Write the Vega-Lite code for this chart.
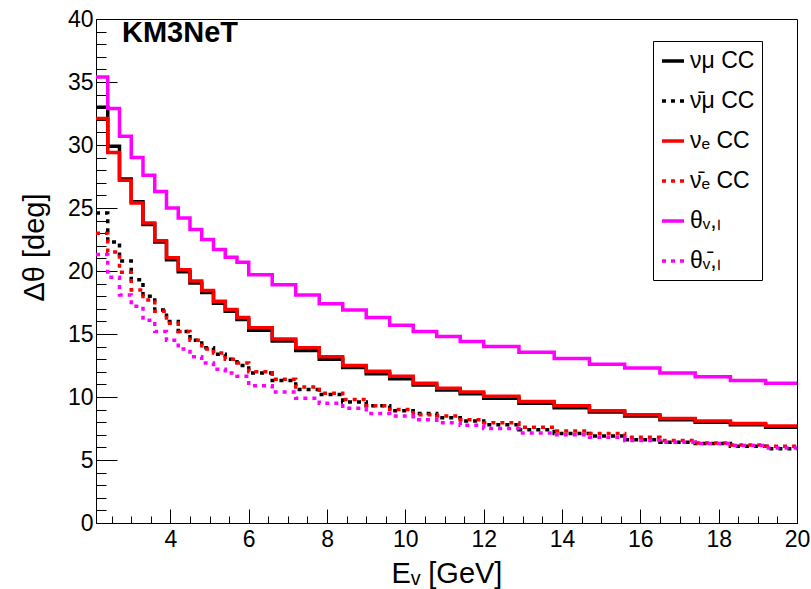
{
  "$schema": "https://vega.github.io/schema/vega-lite/v6.json",
  "width": 701,
  "height": 504,
  "autosize": {"type": "none"},
  "padding": {"left": 96, "top": 19, "right": 14, "bottom": 66},
  "background": "white",
  "title": {"text": "KM3NeT", "anchor": "start", "frame": "group", "font": "Liberation Sans", "fontSize": 29, "fontWeight": "bold", "color": "black", "dx": 26, "dy": 40, "offset": 0, "baseline": "top"},
  "config": {
    "view": {"stroke": "black", "strokeWidth": 1},
    "axis": {"labelFont": "Liberation Sans", "labelFontSize": 23, "labelColor": "black", "titleFont": "Liberation Sans", "titleFontSize": 29, "titleFontWeight": "normal", "titleColor": "black", "domainColor": "black", "tickColor": "black", "tickWidth": 1, "grid": false, "labelOverlap": false, "labelBound": false, "labelFlush": false}
  },
  "data": {"values": [
    {"e": 2.1, "numu": 33.0, "numubar": 24.6, "nue": 32.1, "nuebar": 23.0, "thnu": 35.4, "thnubar": 21.3},
    {"e": 2.4, "numu": 29.9, "numubar": 22.3, "nue": 29.4, "nuebar": 21.5, "thnu": 32.9, "thnubar": 19.5},
    {"e": 2.7, "numu": 27.3, "numubar": 20.8, "nue": 27.2, "nuebar": 19.9, "thnu": 30.7, "thnubar": 18.1},
    {"e": 3.0, "numu": 25.5, "numubar": 19.3, "nue": 25.4, "nuebar": 18.5, "thnu": 29.0, "thnubar": 17.2},
    {"e": 3.3, "numu": 23.7, "numubar": 18.0, "nue": 23.8, "nuebar": 17.7, "thnu": 27.6, "thnubar": 16.1},
    {"e": 3.6, "numu": 22.3, "numubar": 16.9, "nue": 22.4, "nuebar": 16.8, "thnu": 26.3, "thnubar": 15.2},
    {"e": 3.9, "numu": 20.9, "numubar": 16.0, "nue": 21.05, "nuebar": 15.85, "thnu": 25.0, "thnubar": 14.5},
    {"e": 4.2, "numu": 19.95, "numubar": 15.2, "nue": 20.1, "nuebar": 15.2, "thnu": 24.2, "thnubar": 13.8},
    {"e": 4.5, "numu": 19.05, "numubar": 14.5, "nue": 19.2, "nuebar": 14.5, "thnu": 23.3, "thnubar": 13.2},
    {"e": 4.8, "numu": 18.3, "numubar": 13.9, "nue": 18.45, "nuebar": 13.8, "thnu": 22.5, "thnubar": 12.7},
    {"e": 5.1, "numu": 17.45, "numubar": 13.4, "nue": 17.6, "nuebar": 13.5, "thnu": 21.7, "thnubar": 12.2},
    {"e": 5.4, "numu": 16.8, "numubar": 13.0, "nue": 16.95, "nuebar": 13.0, "thnu": 21.1, "thnubar": 11.9},
    {"e": 5.7, "numu": 16.15, "numubar": 12.5, "nue": 16.3, "nuebar": 12.7, "thnu": 20.7, "thnubar": 11.65},
    {"e": 6.0, "numu": 15.3, "numubar": 11.9, "nue": 15.5, "nuebar": 12.0, "thnu": 19.7, "thnubar": 10.9},
    {"e": 6.6, "numu": 14.45, "numubar": 11.3, "nue": 14.6, "nuebar": 11.4, "thnu": 18.9, "thnubar": 10.4},
    {"e": 7.2, "numu": 13.7, "numubar": 10.6, "nue": 13.9, "nuebar": 10.8, "thnu": 18.1, "thnubar": 9.9},
    {"e": 7.8, "numu": 13.0, "numubar": 10.2, "nue": 13.2, "nuebar": 10.3, "thnu": 17.4, "thnubar": 9.5},
    {"e": 8.4, "numu": 12.35, "numubar": 9.6, "nue": 12.5, "nuebar": 9.8, "thnu": 16.9, "thnubar": 9.1},
    {"e": 9.0, "numu": 11.85, "numubar": 9.3, "nue": 12.05, "nuebar": 9.3, "thnu": 16.3, "thnubar": 8.7},
    {"e": 9.6, "numu": 11.45, "numubar": 8.9, "nue": 11.65, "nuebar": 9.0, "thnu": 15.7, "thnubar": 8.5},
    {"e": 10.2, "numu": 10.95, "numubar": 8.7, "nue": 11.1, "nuebar": 8.6, "thnu": 15.2, "thnubar": 8.2},
    {"e": 10.8, "numu": 10.55, "numubar": 8.35, "nue": 10.7, "nuebar": 8.5, "thnu": 14.8, "thnubar": 7.95},
    {"e": 11.4, "numu": 10.25, "numubar": 8.1, "nue": 10.4, "nuebar": 8.2, "thnu": 14.4, "thnubar": 7.75},
    {"e": 12.0, "numu": 9.9, "numubar": 7.8, "nue": 10.05, "nuebar": 7.95, "thnu": 14.0, "thnubar": 7.5},
    {"e": 12.9, "numu": 9.5, "numubar": 7.4, "nue": 9.65, "nuebar": 7.6, "thnu": 13.55, "thnubar": 7.15},
    {"e": 13.8, "numu": 9.15, "numubar": 7.1, "nue": 9.3, "nuebar": 7.3, "thnu": 13.05, "thnubar": 7.0},
    {"e": 14.7, "numu": 8.8, "numubar": 6.9, "nue": 8.9, "nuebar": 7.1, "thnu": 12.6, "thnubar": 6.8},
    {"e": 15.6, "numu": 8.5, "numubar": 6.6, "nue": 8.6, "nuebar": 6.8, "thnu": 12.3, "thnubar": 6.55},
    {"e": 16.5, "numu": 8.2, "numubar": 6.4, "nue": 8.3, "nuebar": 6.55, "thnu": 11.9, "thnubar": 6.4},
    {"e": 17.4, "numu": 8.0, "numubar": 6.3, "nue": 8.1, "nuebar": 6.35, "thnu": 11.6, "thnubar": 6.3},
    {"e": 18.3, "numu": 7.8, "numubar": 6.1, "nue": 7.9, "nuebar": 6.2, "thnu": 11.3, "thnubar": 6.15},
    {"e": 19.2, "numu": 7.6, "numubar": 5.9, "nue": 7.7, "nuebar": 6.1, "thnu": 11.1, "thnubar": 5.95},
    {"e": 20.0, "numu": 7.6, "numubar": 5.9, "nue": 7.7, "nuebar": 6.1, "thnu": 11.1, "thnubar": 5.95}
  ]},
  "transform": [{"fold": ["numu", "numubar", "nue", "nuebar", "thnu", "thnubar"], "as": ["s", "v"]}],
  "layer": [
    {
      "mark": {"type": "point", "opacity": 0},
      "encoding": {
        "x": {"field": "e", "type": "quantitative", "scale": {"domain": [2.1, 20], "nice": false, "zero": false},
          "axis": {"orient": "bottom", "title": null, "labels": false, "domain": false, "tickSize": -7, "values": [2.5, 3, 3.5, 4.5, 5, 5.5, 6.5, 7, 7.5, 8.5, 9, 9.5, 10.5, 11, 11.5, 12.5, 13, 13.5, 14.5, 15, 15.5, 16.5, 17, 17.5, 18.5, 19, 19.5]}},
        "y": {"field": "v", "type": "quantitative", "scale": {"domain": [0, 40], "nice": false, "zero": false},
          "axis": {"orient": "left", "title": null, "labels": false, "domain": false, "tickSize": -10, "values": [1, 2, 3, 4, 6, 7, 8, 9, 11, 12, 13, 14, 16, 17, 18, 19, 21, 22, 23, 24, 26, 27, 28, 29, 31, 32, 33, 34, 36, 37, 38, 39]}}
      }
    },
    {
      "mark": {"type": "line", "interpolate": "step-after", "strokeWidth": 3.5, "strokeCap": "butt", "strokeJoin": "miter"},
      "encoding": {
        "x": {"field": "e", "type": "quantitative", "scale": {"domain": [2.1, 20], "nice": false, "zero": false},
          "axis": {"orient": "bottom", "title": "Eᵥ [GeV]", "values": [4, 6, 8, 10, 12, 14, 16, 18, 20], "tickSize": -14, "labelPadding": 19, "titlePadding": 8}},
        "y": {"field": "v", "type": "quantitative", "scale": {"domain": [0, 40], "nice": false, "zero": false},
          "axis": {"orient": "left", "title": "Δθ [deg]", "values": [0, 5, 10, 15, 20, 25, 30, 35, 40], "tickSize": -21, "labelPadding": 24, "titlePadding": 18, "titleY": 228, "titleAlign": "center"}},
        "color": {"field": "s", "type": "nominal",
          "scale": {"domain": ["numu", "numubar", "nue", "nuebar", "thnu", "thnubar"], "range": ["black", "black", "red", "red", "magenta", "magenta"]},
          "legend": {"title": null, "orient": "none", "legendX": 557, "legendY": 22, "padding": 7, "strokeColor": "black", "fillColor": "white", "symbolType": "stroke", "symbolSize": 484, "symbolStrokeWidth": 3.5, "labelFont": "Liberation Sans", "labelFontSize": 23, "labelColor": "black", "rowPadding": 15, "labelOffset": 4, "labelLimit": 300,
            "labelExpr": "{'numu': 'νμ CC', 'numubar': 'ν̄μ CC', 'nue': 'νₑ CC', 'nuebar': 'ν̄ₑ CC', 'thnu': 'θᵥ,ₗ', 'thnubar': 'θᵥ̄,ₗ'}[datum.value]"}},
        "strokeDash": {"field": "s", "type": "nominal",
          "scale": {"domain": ["numu", "numubar", "nue", "nuebar", "thnu", "thnubar"], "range": [[1, 0], [4, 5], [1, 0], [4, 5], [1, 0], [4, 5]]},
          "legend": {"title": null, "orient": "none", "legendX": 557, "legendY": 22, "padding": 7, "strokeColor": "black", "fillColor": "white", "symbolType": "stroke", "symbolSize": 484, "symbolStrokeWidth": 3.5, "labelFont": "Liberation Sans", "labelFontSize": 23, "labelColor": "black", "rowPadding": 15, "labelOffset": 4, "labelLimit": 300,
            "labelExpr": "{'numu': 'νμ CC', 'numubar': 'ν̄μ CC', 'nue': 'νₑ CC', 'nuebar': 'ν̄ₑ CC', 'thnu': 'θᵥ,ₗ', 'thnubar': 'θᵥ̄,ₗ'}[datum.value]"}}
      }
    }
  ],
  "resolve": {"axis": {"x": "independent", "y": "independent"}}
}
